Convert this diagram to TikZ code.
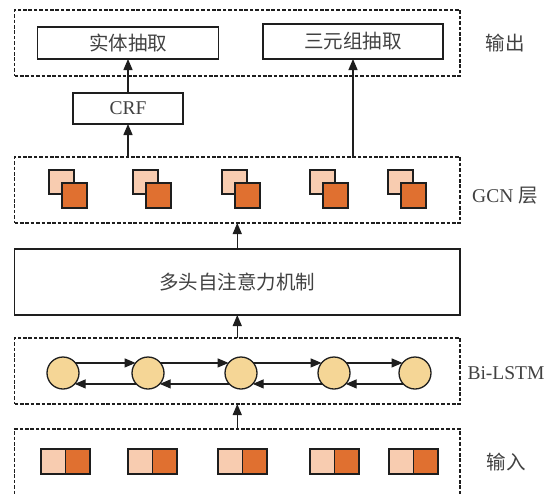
\documentclass[tikz,border=0pt]{standalone}
\usepackage{fontspec}
\setmainfont{Liberation Serif}
\newfontfamily\cjk{Noto Sans CJK SC}
\usetikzlibrary{arrows.meta,positioning,calc}

\definecolor{peach}{RGB}{248,204,176}
\definecolor{burnt}{RGB}{224,112,48}
\definecolor{sand}{RGB}{245,214,150}
\definecolor{ink}{RGB}{30,30,30}
\definecolor{txt}{RGB}{65,65,65}

\tikzset{
  stage/.style={draw=ink, dash pattern=on 3.6pt off 1.8pt, line width=1.25pt,
    minimum width=445.5pt, minimum height=66pt, inner sep=0pt, outer sep=0pt},
  unit/.style={draw=ink, line width=1.3pt, inner sep=0pt, outer sep=0pt,
    text=txt, font=\fontsize{19.5}{22}\selectfont},
  lstm/.style={circle, draw=ink, fill=sand, line width=1.3pt, minimum size=32pt,
    inner sep=0pt, outer sep=0pt},
  sq/.style={draw=ink, line width=1.35pt, minimum width=25pt, minimum height=25pt,
    inner sep=0pt, outer sep=0pt, anchor=north west},
  flow/.style={draw=ink, line width=1.3pt, -{Triangle[width=9pt,length=11pt]}},
  side/.style={text=txt, font=\fontsize{19.5}{22}\selectfont}
}

\begin{document}
\begin{tikzpicture}[x=1pt,y=-1pt]
  \useasboundingbox (0,0) rectangle (554,493);

  % Dashed frames of the layers
  \node[stage] (out)  at (237.25,43)  {};
  \node[stage] (gcn)  at (237.25,190) {};
  \node[stage] (bil)  at (237.25,371) {};
  \node[stage, minimum height=68pt] (inp) at (237.25,463) {};
  \node[unit, minimum width=445.5pt, minimum height=66pt] (att) at (237.25,282) {\cjk 多头自注意力机制};

  % Output tasks and CRF
  \node[unit, minimum width=181pt, minimum height=32pt] (ent) at (128,43)   {\cjk 实体抽取};
  \node[unit, minimum width=180pt, minimum height=35pt] (tri) at (353,41.5) {\cjk 三元组抽取};
  \node[unit, minimum width=110pt, minimum height=31pt] (crf) at (128,108.5) {CRF};

  % Layer names
  \node[side] (lout) at (505,43)  {\cjk 输出};
  \node[side] (lgcn) at (505,196) {GCN {\cjk 层}};
  \node[side] (lbil) at (506,373) {Bi-LSTM};
  \node[side] (linp) at (506,462) {\cjk 输入};

  % GCN nodes
  \foreach \x [count=\i] in {49,133,222,310,388} {
    \node[sq, fill=peach, minimum height=24pt] (ga\i) at (\x,170) {};
    \node[sq, fill=burnt] (gb\i) at ($(ga\i.north west)+(13,13)$) {};
  }

  % Bi-LSTM cells
  \foreach \x [count=\i] in {63,148,241,334,415}
    \node[lstm] (h\i) at (\x,373) {};
  \foreach \i/\j in {1/2,2/3,3/4,4/5} {
    \draw[flow] (h\i.39) -- (h\j.141);
    \draw[flow] (h\j.-137) -- (h\i.-43);
  }

  % Input embeddings
  \foreach \x [count=\i] in {41,128,218,310,389} {
    \node[sq, fill=peach, minimum width=24.5pt] (ea\i) at (\x,449) {};
    \node[sq, fill=burnt, minimum width=24.5pt, anchor=west, right=0pt of ea\i] (eb\i) {};
  }

  % Connect the layers
  \draw[flow] (inp.north) -- (bil.south);
  \draw[flow] (bil.north) -- (att.south);
  \draw[flow] (att.north) -- (gcn.south);
  \draw[flow] (crf.south |- gcn.north) -- (crf.south);
  \draw[flow] (crf.north) -- (ent.south);
  \draw[flow] (tri.south |- gcn.north) -- (tri.south);
\end{tikzpicture}
\end{document}
